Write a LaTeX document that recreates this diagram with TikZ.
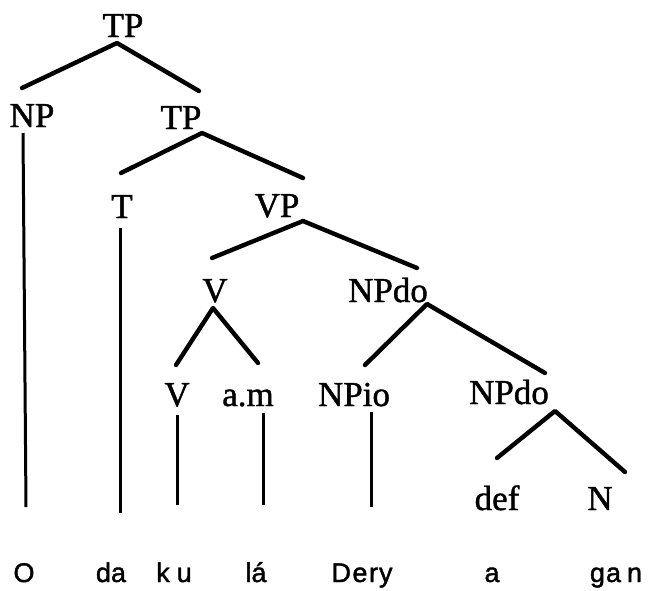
\documentclass[tikz,border=0pt]{standalone}
\usepackage{fontspec}
\setmainfont{Liberation Serif}[FakeBold=1.2]
\newfontfamily\wordfont{Liberation Sans}[FakeBold=1.5]
\begin{document}
\begin{tikzpicture}[x=1pt,y=-1pt,
  lab/.style={font=\fontsize{35}{35}\selectfont, anchor=base, inner sep=0pt},
  word/.style={font=\wordfont\fontsize{27}{27}\selectfont, anchor=base, inner sep=0pt},
  edge/.style={line width=4.4pt, line cap=round, line join=round},
  stem/.style={line width=3pt}]
\useasboundingbox (0,0) rectangle (648,590);
% labels
\node[lab] (tp) at (123,37) {TP};
\node[lab] (np) at (32,127) {NP};
\node[lab] (tp2) at (181,129) {TP};
\node[lab] (t) at (122,218) {T};
\node[lab] (vp) at (277,217) {VP};
\node[lab] (v) at (215,302) {V};
\node[lab] (npdo) at (388,302) {NPdo};
\node[lab] (v2) at (177,406) {V};
\node[lab] (am) at (248,406) {a.m};
\node[lab] (npio) at (354,406) {NPio};
\node[lab] (npdo2) at (509,404) {NPdo};
\node[lab] (def) at (497,510) {def};
\node[lab] (n) at (600,510) {N};
% words
\node[word] (w1) at (24,582) {O};
\node[word] (w2) at (111,582) {da};
\node[word] (w3) at (174,582) {k\kern7pt u};
\node[word] (w4) at (256,582) {lá};
\node[word] (w5) at (362,582) {D\kern1.5pt e\kern1.5pt r\kern1pt y};
\node[word] (w6) at (492,582) {a};
\node[word] (w7) at (616,582) {g\kern1pt a\kern6pt n};
% branch points
\coordinate (tpA) at (117,43);
\coordinate (npT) at (22,88);
\coordinate (tp2T) at (199,91);
\coordinate (tp2A) at (202,133);
\coordinate (tT) at (121,173);
\coordinate (vpT) at (303,178);
\coordinate (vpA) at (303,221);
\coordinate (vT) at (212,258);
\coordinate (npdoT) at (417,268);
\coordinate (vA) at (213,308);
\coordinate (v2T) at (176,365);
\coordinate (amT) at (258,363);
\coordinate (npdoA) at (427,304);
\coordinate (npioT) at (365,365);
\coordinate (npdo2T) at (545,373);
\coordinate (npdo2A) at (555,411);
\coordinate (defT) at (497,458);
\coordinate (nT) at (625,472);
% stem ends
\coordinate (npS) at (23,133);
\coordinate (npE) at (26,507);
\coordinate (tS) at (120,228);
\coordinate (tE) at (120,513);
\coordinate (v2S) at (177,415);
\coordinate (v2E) at (177,505);
\coordinate (amS) at (263,413);
\coordinate (amE) at (263,505);
\coordinate (npioS) at (371,412);
\coordinate (npioE) at (371,507);
% branches
\draw[edge] (npT) -- (tpA) -- (tp2T);
\draw[edge] (tT) -- (tp2A) -- (vpT);
\draw[edge] (vT) -- (vpA) -- (npdoT);
\draw[edge] (v2T) -- (vA) -- (amT);
\draw[edge] (npioT) -- (npdoA) -- (npdo2T);
\draw[edge] (defT) -- (npdo2A) -- (nT);
% stems
\draw[stem] (npS) -- (npE);
\draw[stem] (tS) -- (tE);
\draw[stem] (v2S) -- (v2E);
\draw[stem] (amS) -- (amE);
\draw[stem] (npioS) -- (npioE);
\end{tikzpicture}
\end{document}
